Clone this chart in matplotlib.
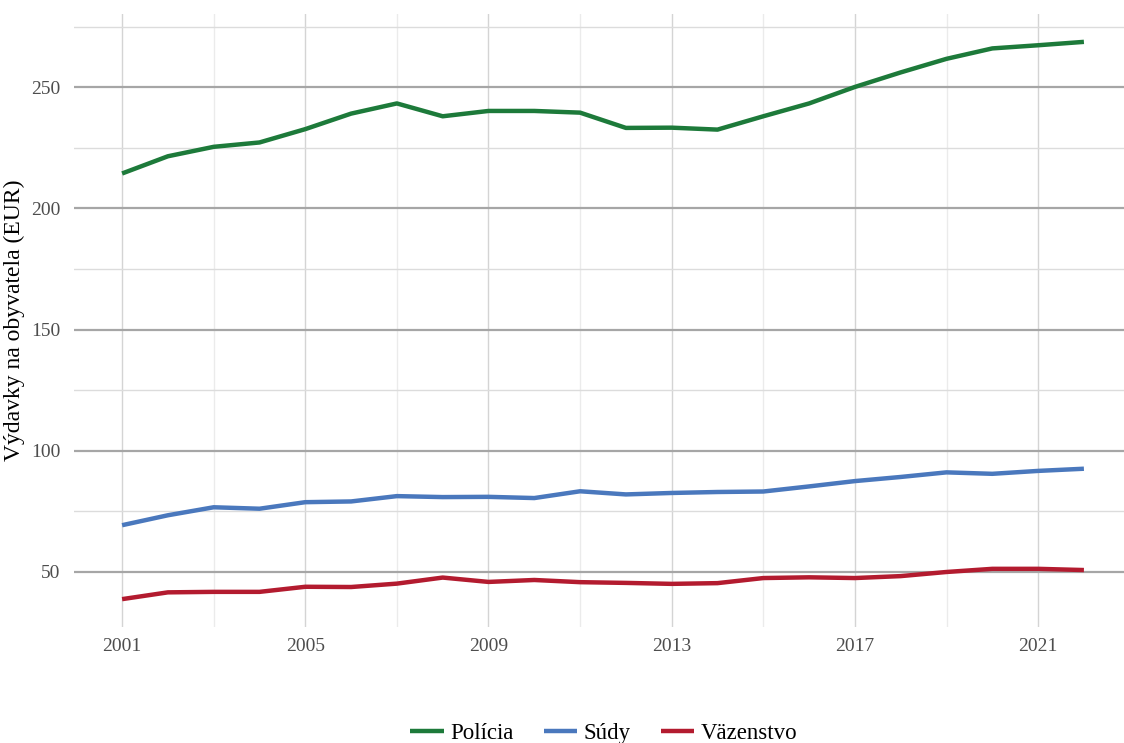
import matplotlib
matplotlib.use("Agg")
import matplotlib.pyplot as plt
from matplotlib.ticker import MultipleLocator
import numpy as np

years = list(range(2001, 2023))

policia = [214.4, 221.5, 225.4, 227.2, 232.7, 239.1, 243.3, 238.0, 240.2, 240.2,
           239.5, 233.2, 233.3, 232.5, 238.0, 243.3, 250.1, 256.1, 261.7, 266.0,
           267.3, 268.7]
sudy = [69.3, 73.4, 76.7, 76.1, 78.8, 79.1, 81.3, 80.9, 81.0, 80.5,
        83.3, 82.0, 82.6, 83.0, 83.2, 85.3, 87.5, 89.2, 91.1, 90.5,
        91.7, 92.6]
vazenstvo = [38.8, 41.6, 41.8, 41.8, 43.9, 43.8, 45.2, 47.7, 45.9, 46.7,
             45.8, 45.5, 45.1, 45.4, 47.5, 47.8, 47.5, 48.3, 50.0, 51.3,
             51.3, 50.8]

series = [("Polícia", policia, "#1d7a3a"),
          ("Súdy", sudy, "#4a78bd"),
          ("Väzenstvo", vazenstvo, "#b31b2f")]

plt.rcParams["font.family"] = ["Liberation Serif", "DejaVu Serif"]

W, H = 1124, 743
fig = plt.figure(figsize=(W / 100, H / 100), dpi=100)

# panel runs a bit past the right edge, like in the original crop
left, right, top, bottom = 74, 1132, 14, 627
ax = fig.add_axes([left / W, 1 - bottom / H, (right - left) / W, (bottom - top) / H])

for name, vals, color in series:
    ax.plot(years, vals, color=color, lw=3.2, label=name, solid_capstyle="butt")

lo = min(min(v) for _, v, _ in series)
hi = max(max(v) for _, v, _ in series)
pad = (hi - lo) * 0.05
ax.set_ylim(lo - pad, hi + pad)
ax.set_xlim(years[0] - 21 * 0.05, years[-1] + 21 * 0.05)

ax.yaxis.set_major_locator(MultipleLocator(50))
ax.yaxis.set_minor_locator(MultipleLocator(25))
ax.set_xticks([2001, 2005, 2009, 2013, 2017, 2021])
ax.set_xticks([2003, 2007, 2011, 2015, 2019, 2023], minor=True)

ax.grid(which="major", axis="y", color="#a6a6a6", lw=1.6)
ax.grid(which="minor", axis="y", color="#dcdcdc", lw=1.0)
ax.grid(which="major", axis="x", color="#d4d4d4", lw=1.0)
ax.grid(which="minor", axis="x", color="#ebebeb", lw=1.0)
ax.set_axisbelow(True)

for s in ax.spines.values():
    s.set_visible(False)
ax.tick_params(which="both", length=0, labelsize=14, labelcolor="#4d4d4d")
ax.tick_params(axis="x", pad=8)
ax.tick_params(axis="y", pad=10)

ax.set_ylabel("Výdavky na obyvatela (EUR)", fontsize=17, color="black", labelpad=4)

fig.legend(loc="center", bbox_to_anchor=(604 / W, 1 - 733 / H), ncol=3,
           frameon=False, fontsize=16.5, handlelength=1.45, columnspacing=1.3,
           handletextpad=0.3)

fig.savefig("out.png", dpi=100)
